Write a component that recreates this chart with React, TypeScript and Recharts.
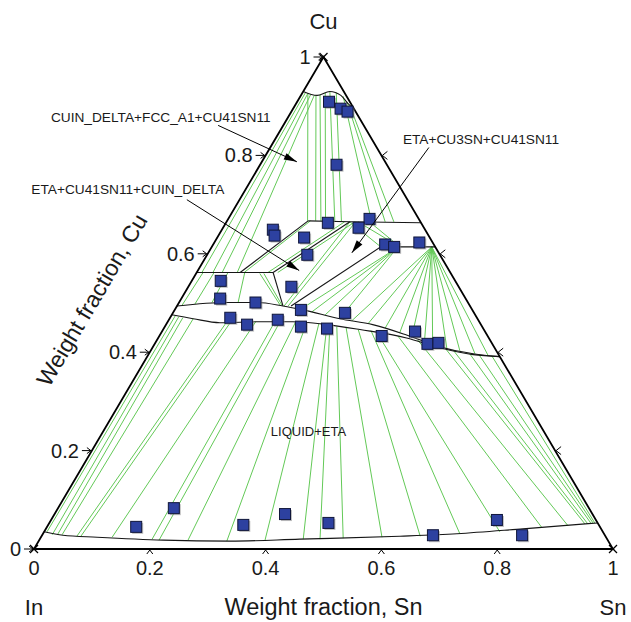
import React from 'react';
import { ScatterChart, Scatter, XAxis, YAxis } from 'recharts';

// Compositions are [Sn, Cu] weight fractions; In is the remainder.
type Pt = [number, number];
type Tie = [Pt, Pt];

const TICKS = [0, 0.2, 0.4, 0.6, 0.8, 1];
const TICK_LABELS = ['0', '0.2', '0.4', '0.6', '0.8', '1'];

// Measured alloy compositions
const samples: Pt[] = [
    [0.055, 0.909], [0.082, 0.895], [0.097, 0.889], [0.132, 0.781],
    [0.088, 0.649], [0.097, 0.637], [0.150, 0.633], [0.173, 0.598], [0.176, 0.663],
    [0.244, 0.671], [0.234, 0.653], [0.297, 0.619], [0.315, 0.614], [0.354, 0.623],
    [0.050, 0.545], [0.067, 0.509], [0.132, 0.501], [0.178, 0.533], [0.218, 0.486], [0.297, 0.480],
    [0.104, 0.470], [0.140, 0.456], [0.188, 0.466], [0.235, 0.452], [0.282, 0.448],
    [0.384, 0.433], [0.437, 0.442], [0.471, 0.417], [0.489, 0.419],
    [0.154, 0.045], [0.200, 0.083], [0.337, 0.049], [0.398, 0.071], [0.482, 0.053],
    [0.675, 0.028], [0.770, 0.059], [0.829, 0.028],
];

// Phase boundaries
const triangle: Pt[] = [[0, 0], [1, 0], [0, 1], [0, 0]];
const capBoundary: Pt[] = [[0, 0.930], [0.028, 0.922], [0.046, 0.930], [0.069, 0.922], [0.090, 0.905], [0.107, 0.893]];
const cu41Top: Pt[] = [[0.140, 0.667], [0.213, 0.665], [0.337, 0.663]];
const deltaEdge: Pt[] = [[0.140, 0.667], [0.075, 0.562]];
const deltaBase: Pt[] = [[0, 0.562], [0.132, 0.562]];
const etaDiagonal: Pt[] = [[0.132, 0.562], [0.213, 0.665]];
const etaStep: Pt[] = [[0.132, 0.562], [0.183, 0.494]];
const cu3snEdge: Pt[] = [[0.197, 0.494], [0.292, 0.614], [0.325, 0.614], [0.386, 0.614]];
const etaUpper: Pt[] = [
    [0, 0.494], [0.083, 0.501], [0.135, 0.501], [0.183, 0.494], [0.222, 0.486], [0.294, 0.468],
    [0.357, 0.456], [0.426, 0.435], [0.495, 0.411], [0.560, 0.397], [0.609, 0.391],
];
const etaLower: Pt[] = [
    [0, 0.476], [0.041, 0.468], [0.091, 0.460], [0.159, 0.462], [0.216, 0.462], [0.278, 0.456],
    [0.340, 0.446], [0.429, 0.429], [0.496, 0.409], [0.561, 0.395], [0.609, 0.391],
];
const liquidus: Pt[] = [
    [0, 0.035], [0.036, 0.028], [0.097, 0.024], [0.214, 0.018], [0.331, 0.016],
    [0.449, 0.020], [0.619, 0.026], [0.715, 0.031], [0.824, 0.041], [0.947, 0.053],
];

// Tie lines
const capTies: Tie[] = [
    [[0.005, 0.928], [0.009, 0.562]], [[0.010, 0.926], [0.028, 0.562]],
    [[0.016, 0.924], [0.044, 0.562]], [[0.023, 0.922], [0.070, 0.562]],
    [[0.010, 0.926], [0.139, 0.667]], [[0.026, 0.922], [0.153, 0.667]],
    [[0.032, 0.924], [0.162, 0.667]], [[0.039, 0.928], [0.170, 0.667]],
    [[0.046, 0.930], [0.186, 0.667]], [[0.058, 0.928], [0.198, 0.666]],
    [[0.074, 0.920], [0.250, 0.666]], [[0.086, 0.909], [0.274, 0.665]],
    [[0.095, 0.901], [0.289, 0.665]],
];
const deltaTies: Tie[] = [
    [[0.011, 0.562], [0.008, 0.496]], [[0.030, 0.562], [0.029, 0.498]],
    [[0.054, 0.562], [0.057, 0.501]], [[0.083, 0.562], [0.102, 0.501]],
    [[0.144, 0.667], [0.082, 0.562]],
    [[0.123, 0.562], [0.204, 0.665]], [[0.140, 0.562], [0.222, 0.665]],
    [[0.110, 0.560], [0.177, 0.496]], [[0.117, 0.560], [0.180, 0.496]],
    [[0.185, 0.494], [0.213, 0.665]], [[0.192, 0.494], [0.223, 0.665]],
];
const cu3snTies: Tie[] = [
    [[0.213, 0.665], [0.292, 0.614]], [[0.227, 0.665], [0.325, 0.614]],
    [[0.247, 0.665], [0.325, 0.614]],
    [[0.321, 0.612], [0.216, 0.486]], [[0.321, 0.612], [0.239, 0.482]],
    [[0.321, 0.612], [0.265, 0.476]], [[0.321, 0.612], [0.294, 0.468]],
];
const etaFanEnds: Pt[] = [
    [0.317, 0.464], [0.348, 0.458], [0.382, 0.449], [0.412, 0.439], [0.437, 0.431], [0.463, 0.423],
    [0.480, 0.417], [0.509, 0.408], [0.534, 0.403], [0.563, 0.397], [0.587, 0.394],
];
const etaFanOrigin: Pt = [0.380, 0.614];
const liquidTies: Tie[] = [
    [[0.007, 0.474], [0.005, 0.035]], [[0.014, 0.472], [0.017, 0.029]],
    [[0.022, 0.470], [0.026, 0.029]], [[0.041, 0.468], [0.034, 0.029]],
    [[0.102, 0.460], [0.061, 0.026]], [[0.109, 0.460], [0.068, 0.026]],
    [[0.152, 0.462], [0.123, 0.024]], [[0.185, 0.462], [0.194, 0.020]],
    [[0.194, 0.462], [0.207, 0.018]], [[0.221, 0.462], [0.257, 0.018]],
    [[0.241, 0.460], [0.325, 0.016]], [[0.263, 0.458], [0.390, 0.018]],
    [[0.278, 0.456], [0.455, 0.020]], [[0.284, 0.454], [0.484, 0.020]],
    [[0.297, 0.452], [0.523, 0.022]], [[0.314, 0.450], [0.589, 0.024]],
    [[0.337, 0.446], [0.654, 0.026]], [[0.360, 0.444], [0.720, 0.031]],
    [[0.373, 0.439], [0.787, 0.035]], [[0.412, 0.433], [0.856, 0.043]],
    [[0.450, 0.425], [0.899, 0.047]], [[0.505, 0.409], [0.926, 0.051]],
    [[0.521, 0.405], [0.931, 0.051]], [[0.554, 0.397], [0.935, 0.053]],
    [[0.571, 0.395], [0.939, 0.053]], [[0.594, 0.393], [0.942, 0.053]],
];

// Region callouts, in plot units (x = Sn + Cu/2, y = Cu)
const callouts = [
    { text: 'CUIN_DELTA+FCC_A1+CU41SN11', at: [0.219, 0.877], from: [0.318, 0.861], to: [0.454, 0.787] },
    { text: 'ETA+CU41SN11+CUIN_DELTA', at: [0.162, 0.730], from: [0.264, 0.710], to: [0.458, 0.566] },
    { text: 'ETA+CU3SN+CU41SN11', at: [0.772, 0.832], from: [0.682, 0.816], to: [0.549, 0.602] },
];
const regionLabel = { text: 'LIQUID+ETA', at: [0.474, 0.238] };

// The chart covers the whole window, so the body margin is dropped.
const W = 631;
const H = 622;
const MARGIN = { top: 57, right: 18, bottom: 73, left: 34 };
const PLOT_W = W - MARGIN.left - MARGIN.right;
const PLOT_H = H - MARGIN.top - MARGIN.bottom;

const GREEN = '#63c957';
const INK = '#161616';
const FONT = '"Liberation Sans", Arial, Helvetica, sans-serif';
const EDGE_ANGLE = (Math.atan2(PLOT_H, PLOT_W / 2) * 180) / Math.PI;

const toXY = ([sn, cu]: Pt) => ({ x: sn + cu / 2, y: cu });
const noDot = () => <g />;

const polyline = (key: string, pts: Pt[], stroke: string, width: number, smooth = false) => (
    <Scatter
        key={key}
        data={pts.map(toXY)}
        fill={stroke}
        line={{ stroke, strokeWidth: width }}
        lineJointType={smooth ? 'monotoneX' : 'linear'}
        shape={noDot}
        isAnimationActive={false}
    />
);

const SampleMark = (p: any) => (
    <g>
        <rect x={p.cx - 4} y={p.cy - 4} width={11} height={11} fill="#8c8c8c" opacity={0.55} />
        <rect x={p.cx - 5.5} y={p.cy - 5.5} width={11} height={11} fill="#2d41a0" stroke="#10163a" strokeWidth={1} />
    </g>
);

const textMark = (dx: number, dy: number, size: number, anchor: 'start' | 'middle' | 'end', rotate = 0) =>
    (p: any) => {
        const x = p.cx + dx;
        const y = p.cy + dy;
        return (
            <text
                x={x}
                y={y}
                fontSize={size}
                fontFamily={FONT}
                fill="#1a1a1a"
                textAnchor={anchor}
                transform={rotate ? `rotate(${rotate} ${x} ${y})` : undefined}
            >
                {p.payload?.text ?? p.text}
            </text>
        );
    };

const LeftTick = (p: any) => (
    <g stroke="#000" strokeWidth={1} fill="none">
        <line x1={p.cx - 10} y1={p.cy} x2={p.cx - 1} y2={p.cy} />
        <polyline points={`${p.cx - 5},${p.cy - 3} ${p.cx - 1},${p.cy} ${p.cx - 5},${p.cy + 3}`} />
    </g>
);
const BottomTick = (p: any) => (
    <polyline points={`${p.cx - 3},${p.cy + 5} ${p.cx},${p.cy + 1} ${p.cx + 3},${p.cy + 5}`} stroke="#000" strokeWidth={1} fill="none" />
);
const RightTick = (p: any) => (
    <polyline points={`${p.cx + 6},${p.cy - 4} ${p.cx + 1},${p.cy} ${p.cx + 6},${p.cy + 4}`} stroke="#000" strokeWidth={1} fill="none" />
);
const CornerMark = (p: any) => (
    <g stroke="#000" strokeWidth={1.2}>
        <line x1={p.cx - 4} y1={p.cy - 4} x2={p.cx + 4} y2={p.cy + 4} />
        <line x1={p.cx - 4} y1={p.cy + 4} x2={p.cx + 4} y2={p.cy - 4} />
    </g>
);

const arrowHead = (from: number[], to: number[]) => {
    const ang = Math.atan2(-(to[1] - from[1]) * PLOT_H, (to[0] - from[0]) * PLOT_W);
    return (p: any) => {
        const len = 13;
        const half = 3.5;
        const bx = p.cx - len * Math.cos(ang);
        const by = p.cy - len * Math.sin(ang);
        const nx = -Math.sin(ang) * half;
        const ny = Math.cos(ang) * half;
        return <polygon points={`${p.cx},${p.cy} ${bx + nx},${by + ny} ${bx - nx},${by - ny}`} fill="#000" />;
    };
};

export default function App() {
    const tickPts = (f: (v: number) => Pt) => TICKS.map((v, i) => ({ ...toXY(f(v)), text: TICK_LABELS[i] }));

    return (
        <div style={{ width: W, height: H, background: '#fff' }}>
            <style>{'html, body { margin: 0; padding: 0; }'}</style>
            <ScatterChart width={W} height={H} margin={MARGIN}>
                <XAxis type="number" dataKey="x" domain={[0, 1]} hide />
                <YAxis type="number" dataKey="y" domain={[0, 1]} hide />

                {capTies.map((t, i) => polyline(`cap${i}`, t, GREEN, 1))}
                {deltaTies.map((t, i) => polyline(`delta${i}`, t, GREEN, 1))}
                {cu3snTies.map((t, i) => polyline(`cu3sn${i}`, t, GREEN, 1))}
                {etaFanEnds.map((e, i) => polyline(`fan${i}`, [etaFanOrigin, e], GREEN, 1))}
                {liquidTies.map((t, i) => polyline(`liq${i}`, t, GREEN, 1))}

                {polyline('capB', capBoundary, INK, 1.1, true)}
                {polyline('cu41', cu41Top, INK, 1.1)}
                {polyline('dEdge', deltaEdge, INK, 1.1)}
                {polyline('dBase', deltaBase, INK, 1.1)}
                {polyline('etaDiag', etaDiagonal, INK, 1.1)}
                {polyline('etaStep', etaStep, INK, 1.1)}
                {polyline('cu3sn', cu3snEdge, INK, 1.1)}
                {polyline('etaUp', etaUpper, INK, 1.1, true)}
                {polyline('etaLo', etaLower, INK, 1.1, true)}
                {polyline('liquidus', liquidus, INK, 1.1, true)}
                {polyline('frame', triangle, '#000', 1.8)}

                <Scatter data={samples.map(toXY)} shape={SampleMark} isAnimationActive={false} />

                <Scatter data={tickPts((v) => [0, v])} shape={LeftTick} isAnimationActive={false} />
                <Scatter data={tickPts((v) => [v, 0]).slice(1, 5)} shape={BottomTick} isAnimationActive={false} />
                <Scatter data={tickPts((v) => [1 - v, v]).slice(1, 5)} shape={RightTick} isAnimationActive={false} />
                <Scatter data={[toXY([0, 0]), toXY([1, 0]), toXY([0, 1])]} shape={CornerMark} isAnimationActive={false} />

                <Scatter data={tickPts((v) => [0, v])} shape={textMark(-13, 7, 20, 'end')} isAnimationActive={false} />
                <Scatter data={tickPts((v) => [v, 0])} shape={textMark(0, 26, 20, 'middle')} isAnimationActive={false} />

                <Scatter data={[{ ...toXY([0, 1]), text: 'Cu' }]} shape={textMark(0, -28, 22, 'middle')} isAnimationActive={false} />
                <Scatter data={[{ ...toXY([0, 0]), text: 'In' }]} shape={textMark(0, 66, 22, 'middle')} isAnimationActive={false} />
                <Scatter data={[{ ...toXY([1, 0]), text: 'Sn' }]} shape={textMark(0, 66, 22, 'middle')} isAnimationActive={false} />
                <Scatter data={[{ ...toXY([0.5, 0]), text: 'Weight fraction, Sn' }]} shape={textMark(0, 66, 23.5, 'middle')} isAnimationActive={false} />
                <Scatter
                    data={[{ ...toXY([0, 0.5]), text: 'Weight fraction, Cu' }]}
                    shape={textMark(-80, 1, 23, 'middle', -EDGE_ANGLE)}
                    isAnimationActive={false}
                />

                {callouts.map((c, i) => (
                    <Scatter
                        key={`shaft${i}`}
                        data={[{ x: c.from[0], y: c.from[1] }, { x: c.to[0], y: c.to[1] }]}
                        fill="#000"
                        line={{ stroke: '#000', strokeWidth: 1 }}
                        shape={noDot}
                        isAnimationActive={false}
                    />
                ))}
                {callouts.map((c, i) => (
                    <Scatter
                        key={`head${i}`}
                        data={[{ x: c.to[0], y: c.to[1] }]}
                        shape={arrowHead(c.from, c.to)}
                        isAnimationActive={false}
                    />
                ))}
                <Scatter
                    data={callouts.map((c) => ({ x: c.at[0], y: c.at[1], text: c.text }))}
                    shape={textMark(0, 4.5, 13.7, 'middle')}
                    isAnimationActive={false}
                />
                <Scatter
                    data={[{ x: regionLabel.at[0], y: regionLabel.at[1], text: regionLabel.text }]}
                    shape={textMark(0, 4.5, 13, 'middle')}
                    isAnimationActive={false}
                />
            </ScatterChart>
        </div>
    );
}
